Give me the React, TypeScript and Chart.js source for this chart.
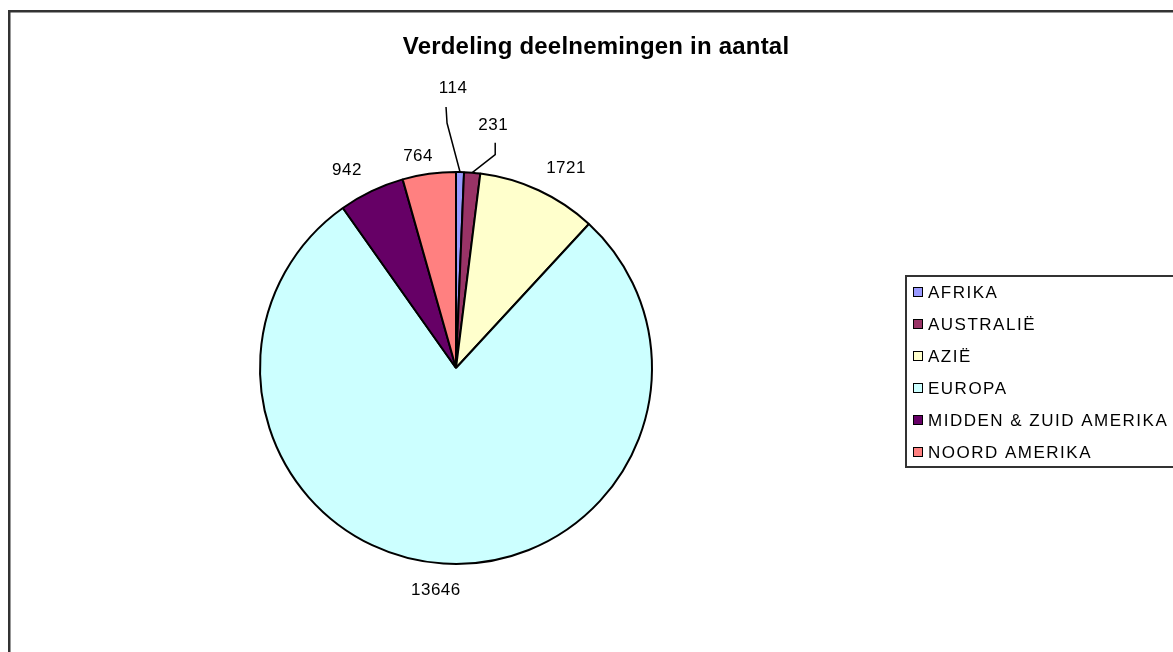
import React, { useEffect, useRef } from "react";
import { Chart, registerables } from "chart.js";

Chart.register(...registerables);

const titleText = "Verdeling deelnemingen in aantal";
const categories = ["AFRIKA", "AUSTRALIË", "AZIË", "EUROPA", "MIDDEN & ZUID AMERIKA", "NOORD AMERIKA"];
const values = [114, 231, 1721, 13646, 942, 764];
const colors = ["#9999FF", "#993366", "#FFFFCC", "#CCFFFF", "#660066", "#FF8080"];

// label placement relative to the outer-middle point of each slice (style only)
const labelOffsets: [number, number][] = [
  [-7, -84],
  [21, -47],
  [27.5, -22],
  [-7.4, 26.4],
  [-24.6, -21],
  [-11, -18],
];
// leader lines: [startDx, startDy, elbowDx, elbowDy] relative to label centre, or null
const leaders: ([number, number, number, number] | null)[] = [
  [-7, 19, -6, 35],
  [2, 17, 2, 29],
  null,
  null,
  null,
  null,
];

const W = 1173;
const H = 652;

const overlay = {
  id: "overlay",
  afterDraw(chart: any) {
    const ctx: CanvasRenderingContext2D = chart.ctx;
    ctx.save();
    // frame
    ctx.strokeStyle = "#333";
    ctx.lineWidth = 2.5;
    ctx.beginPath();
    ctx.moveTo(9.25, H + 5);
    ctx.lineTo(9.25, 11.25);
    ctx.lineTo(W + 5, 11.25);
    ctx.stroke();

    // title
    ctx.fillStyle = "#000";
    ctx.font = "bold 24px 'Liberation Sans', Arial, sans-serif";
    (ctx as any).letterSpacing = "0.2px";
    ctx.textAlign = "center";
    ctx.textBaseline = "middle";
    ctx.fillText(titleText, 596, 47);

    // data labels
    const meta = chart.getDatasetMeta(0);
    ctx.font = "17px 'Liberation Sans', Arial, sans-serif";
    (ctx as any).letterSpacing = "0.5px";
    meta.data.forEach((arc: any, i: number) => {
      const mid = (arc.startAngle + arc.endAngle) / 2;
      const ex = arc.x + Math.cos(mid) * arc.outerRadius;
      const ey = arc.y + Math.sin(mid) * arc.outerRadius;
      const lx = ex + labelOffsets[i][0];
      const ly = ey + labelOffsets[i][1];
      ctx.fillStyle = "#000";
      ctx.fillText(String(values[i]), lx, ly);
      const ld = leaders[i];
      if (ld) {
        ctx.strokeStyle = "#000";
        ctx.lineWidth = 1.5;
        ctx.beginPath();
        ctx.moveTo(lx + ld[0], ly + ld[1]);
        ctx.lineTo(lx + ld[2], ly + ld[3]);
        ctx.lineTo(ex, ey);
        ctx.stroke();
      }
    });

    // legend
    ctx.strokeStyle = "#333";
    ctx.lineWidth = 2;
    ctx.strokeRect(906, 276, 300, 191);
    ctx.font = "17px 'Liberation Sans', Arial, sans-serif";
    (ctx as any).letterSpacing = "1.5px";
    ctx.textAlign = "left";
    ctx.textBaseline = "middle";
    categories.forEach((c, i) => {
      const y = 292 + 32 * i;
      ctx.fillStyle = colors[i];
      ctx.fillRect(913.5, y - 4.5, 9, 9);
      ctx.strokeStyle = "#000";
      ctx.lineWidth = 1;
      ctx.strokeRect(913.5, y - 4.5, 9, 9);
      ctx.fillStyle = "#000";
      ctx.fillText(c, 928, y + 1);
    });
    ctx.restore();
  },
};

export default function App() {
  const ref = useRef<HTMLCanvasElement | null>(null);
  useEffect(() => {
    document.body.style.overflow = "hidden";
    const chart = new Chart(ref.current as HTMLCanvasElement, {
      type: "pie",
      data: {
        labels: categories,
        datasets: [
          {
            data: values,
            backgroundColor: colors,
            borderColor: "#000",
            borderWidth: 2,
            hoverOffset: 0,
          },
        ],
      },
      options: {
        responsive: false,
        animation: false,
        devicePixelRatio: 1,
        layout: { padding: { left: 259, right: W - 653, top: 171, bottom: H - 565 } },
        plugins: {
          legend: { display: false },
          title: { display: false },
          tooltip: { enabled: false },
        },
      },
      plugins: [overlay],
    } as any);
    return () => chart.destroy();
  }, []);
  return (
    <div style={{ position: "fixed", left: 0, top: 0, width: W, height: H, background: "#fff" }}>
      <canvas ref={ref} width={W} height={H} style={{ display: "block", width: W, height: H }} />
    </div>
  );
}
